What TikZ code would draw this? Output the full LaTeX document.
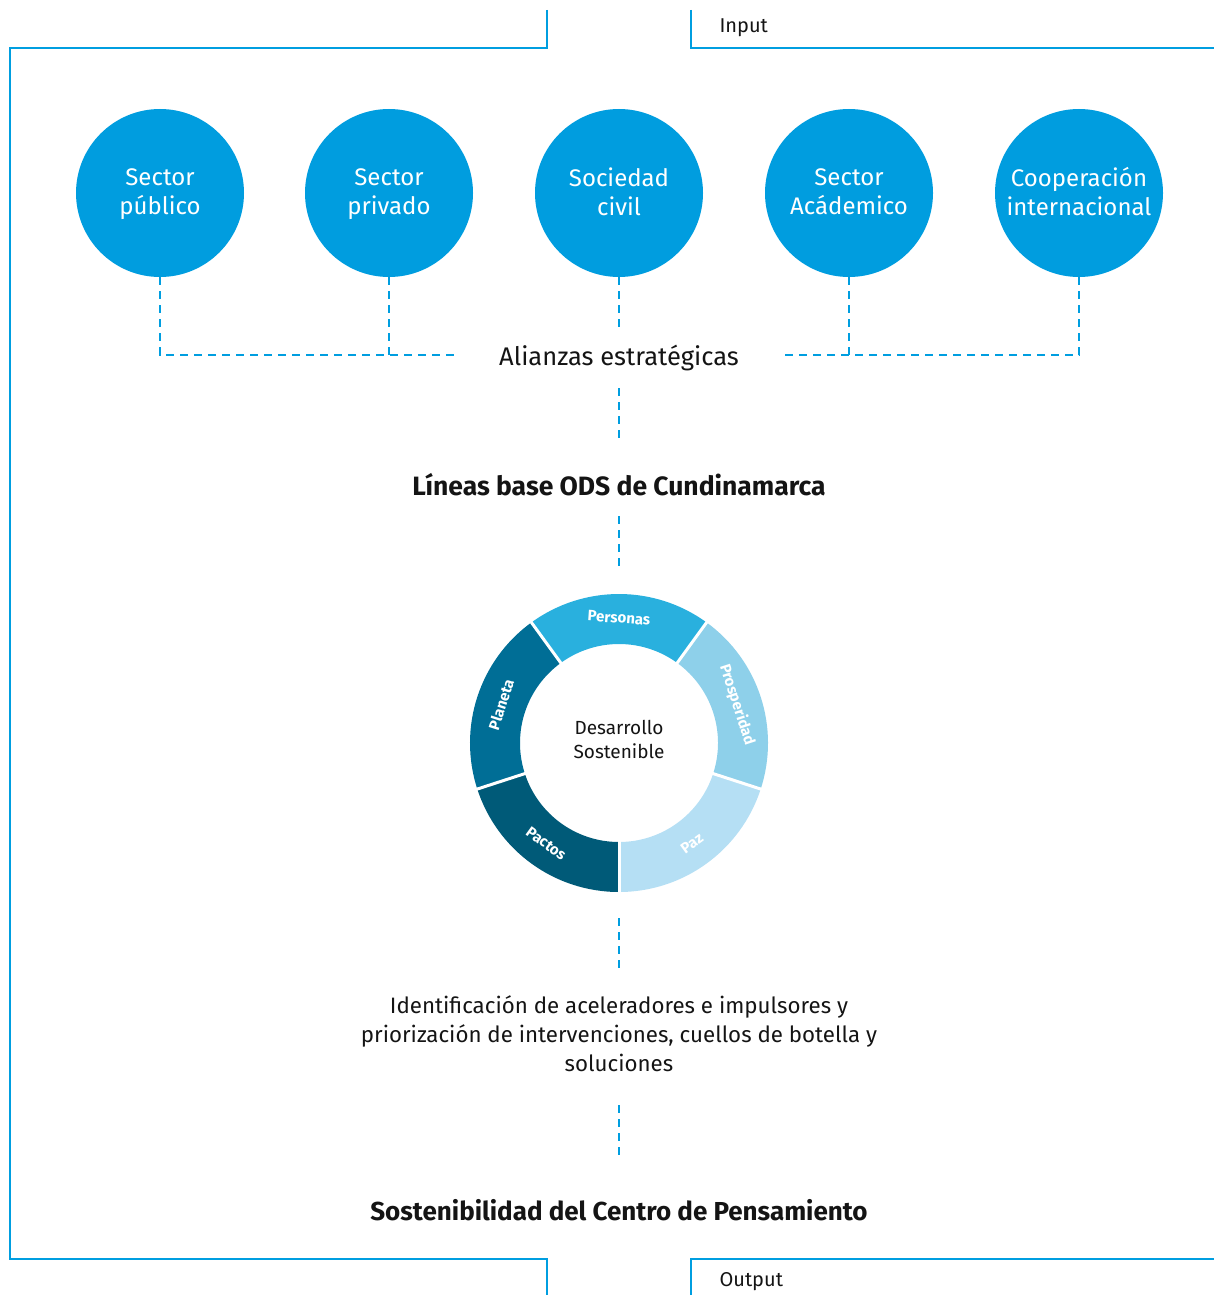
\documentclass[tikz,border=0pt]{standalone}
\usepackage{fontspec}
\setmainfont{Fira Sans}
\definecolor{frameblue}{RGB}{0,158,224}
\definecolor{circblue}{RGB}{0,157,223}
\definecolor{cPersonas}{RGB}{41,176,222}
\definecolor{cProsp}{RGB}{142,208,234}
\definecolor{cPaz}{RGB}{181,223,244}
\definecolor{cPlaneta}{RGB}{0,110,150}
\definecolor{cPactos}{RGB}{0,90,120}
\definecolor{txt}{RGB}{20,20,20}
\newcommand{\nodesc}[1]{\raisebox{0pt}[\height][0pt]{#1}}
\begin{document}
\begin{tikzpicture}[x=1pt,y=1pt,
  frame/.style={draw=frameblue,line width=2.6pt},
  actor/.style={circle,fill=circblue,minimum size=168pt,inner sep=0pt},
  ctext/.style={text=white,font=\fontsize{24}{29}\selectfont,align=center,yshift=1.5pt},
  link/.style={draw=frameblue,line width=2.3pt,dash pattern=on 8pt off 6pt},
  lbl/.style={text=txt,align=center},
  seglbl/.style={text=white,font=\fontsize{15}{17}\selectfont\bfseries}
]
\useasboundingbox (0,0) rectangle (1214,-1295);
% frame
\draw[frame] (547,-10) -- (547,-48) -- (10,-48) -- (10,-1259) -- (547,-1259) -- (547,-1295);
\draw[frame] (691,-10) -- (691,-48) -- (1214,-48);
\draw[frame] (691,-1295) -- (691,-1259) -- (1214,-1259);
\node[lbl,anchor=west,font=\fontsize{20}{24}\selectfont] (input) at (716,-28) {Input};
\node[lbl,anchor=west,font=\fontsize{20}{24}\selectfont] (output) at (716,-1282) {Output};
% actors
\node[actor,label={[ctext]center:{Sector\\\nodesc{público}}}] (c1) at (160,-193) {};
\node[actor,label={[ctext]center:{Sector\\\nodesc{privado}}}] (c2) at (389,-193) {};
\node[actor,label={[ctext]center:{Sociedad\\civil}}] (c3) at (619,-193) {};
\node[actor,label={[ctext]center:{Sector\\Acádemico}}] (c4) at (849,-193) {};
\node[actor,label={[ctext]center:{Cooperación\\internacional}}] (c5) at (1079,-193) {};
\node[lbl,font=\fontsize{25.5}{29}\selectfont] (ali) at (619,-358) {Alianzas estratégicas};
\coordinate (k1) at (160,-355);
\coordinate (k2) at (389,-355);
\coordinate (k4) at (849,-355);
\coordinate (k5) at (1079,-355);
\coordinate (kl) at (456,-355);
\coordinate (kr) at (785,-355);
\draw[link] (c1.south) -- (k1) -- (kl);
\draw[link] (c2.south) -- (k2);
\draw[link] (c5.south) -- (k5) -- (kr);
\draw[link] (c4.south) -- (k4);
\coordinate (c3e) at (619,-330);
\draw[link] (c3.south) -- (c3e);
\node[lbl,font=\fontsize{26.5}{30}\selectfont\bfseries] (lin) at (619,-485) {Líneas base ODS de Cundinamarca};
\coordinate (a1) at (619,-388); \coordinate (a2) at (619,-442);
\draw[link] (a1) -- (a2);
\coordinate (b1) at (619,-516); \coordinate (b2) at (619,-570);
\draw[link] (b1) -- (b2);
% ring
\begin{scope}[shift={(619,-743)}]
  \foreach \a/\b/\c in {270/342/cPaz, 342/414/cProsp, 54/126/cPersonas, 126/198/cPlaneta, 198/270/cPactos}{
    \fill[\c] (\a:149) arc[start angle=\a,end angle=\b,radius=149] -- (\b:99) arc[start angle=\b,end angle=\a,radius=99] -- cycle;
  }
  \foreach \a in {270,342,54,126,198}{
    \draw[white,line width=3pt] (\a:97) -- (\a:152);
  }
  \node[seglbl,rotate=-4] (sp1) at (90:125) {Personas};
  \node[seglbl,rotate=-72] (sp2) at (18:124) {Prosperidad};
  \node[seglbl,rotate=36] (sp3) at (306:124) {Paz};
  \node[seglbl,rotate=-36] (sp4) at (234:124) {Pactos};
  \node[seglbl,rotate=72] (sp5) at (162:124) {Planeta};
  \node[lbl,font=\fontsize{19}{24}\selectfont] (ds) at (0,4) {Desarrollo\\Sostenible};
\end{scope}
\coordinate (d1) at (619,-918); \coordinate (d2) at (619,-971);
\draw[link] (d1) -- (d2);
\node[lbl,font=\fontsize{22.3}{29}\selectfont] (ident) at (619,-1034) {Identificación de aceleradores e impulsores y\\priorización de intervenciones, cuellos de botella y\\soluciones};
\coordinate (e1) at (619,-1105); \coordinate (e2) at (619,-1158);
\draw[link] (e1) -- (e2);
\node[lbl,font=\fontsize{26}{29}\selectfont\bfseries] (sost) at (619,-1210) {Sostenibilidad del Centro de Pensamiento};
\end{tikzpicture}
\end{document}
